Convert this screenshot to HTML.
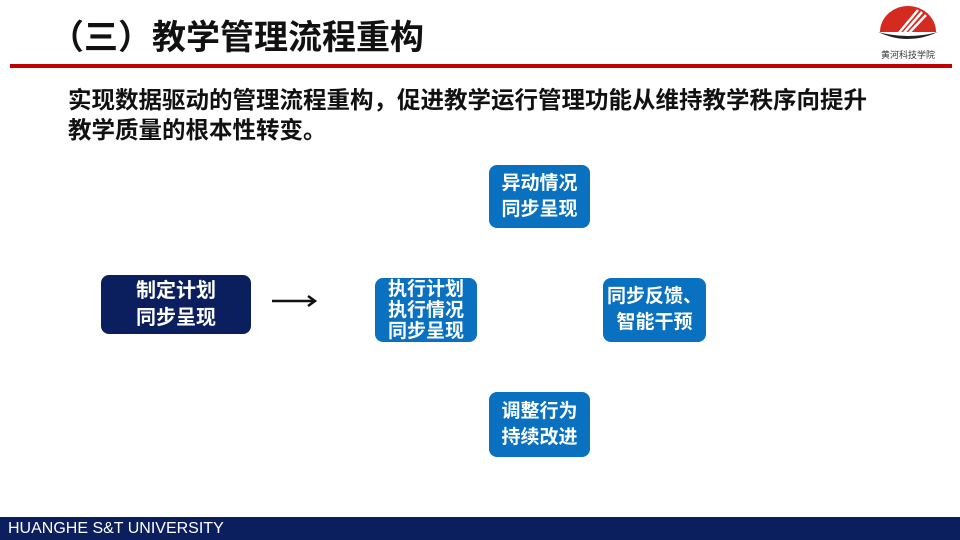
<!DOCTYPE html>
<html><head><meta charset="utf-8"><style>
*{margin:0;padding:0;box-sizing:border-box}
body{width:960px;height:540px;position:relative;background:#fff;overflow:hidden;font-family:"Liberation Sans","Noto Sans CJK SC",sans-serif}
.t{position:absolute;font-weight:bold;color:#111;white-space:nowrap}
.b{position:absolute;border-radius:8px;color:#fff;font-weight:bold;font-size:19px;line-height:22px;display:flex;align-items:center;justify-content:center;text-align:center;background:#0a70c0}
</style></head><body>
<div class="t" style="left:50px;top:14px;font-size:34px;line-height:48px">（三）教学管理流程重构</div>
<div style="position:absolute;left:10px;top:64px;width:942px;height:4px;background:#c00000"></div>
<svg style="position:absolute;left:870px;top:2px" width="76" height="60" viewBox="0 0 76 60">
<path d="M10 30 A28 26 0 1 1 66 30 Z" fill="#d42a20"/>
<path d="M28 32 L48 8 M33 32 L52 10 M38 32 L56 13" stroke="#fff" stroke-width="2.5"/>
<path d="M8 30 Q38 44 68 30 Q38 38 8 30 Z" fill="#222"/>
<text x="38" y="56" font-size="9" text-anchor="middle" fill="#333" font-family="Noto Sans CJK SC,sans-serif">黄河科技学院</text>
</svg>
<div class="t" style="left:68px;top:85px;font-size:23.5px;line-height:30px">实现数据驱动的管理流程重构，促进教学运行管理功能从维持教学秩序向提升<br>教学质量的根本性转变。</div>
<div class="b" style="left:101px;top:275px;width:150px;height:59px;background:#0b1f5e;font-size:20px;line-height:27px">制定计划<br>同步呈现</div>
<svg style="position:absolute;left:270px;top:293px" width="48" height="16"><line x1="2" y1="8" x2="44" y2="8" stroke="#111" stroke-width="2.5"/><path d="M38 3 L45 8 L38 13" fill="none" stroke="#111" stroke-width="2.5"/></svg>
<div class="b" style="left:375px;top:278px;width:102px;height:64px;line-height:21px">执行计划<br>执行情况<br>同步呈现</div>
<div class="b" style="left:489px;top:165px;width:101px;height:63px;line-height:26px">异动情况<br>同步呈现</div>
<div class="b" style="left:603px;top:278px;width:103px;height:64px;line-height:26px">同步反馈、<br>智能干预</div>
<div class="b" style="left:489px;top:392px;width:101px;height:65px;line-height:26px">调整行为<br>持续改进</div>
<div style="position:absolute;left:0;top:517px;width:960px;height:23px;background:#0b1f5e;color:#fff;font-size:16px;line-height:23px;padding-left:8px">HUANGHE S&amp;T UNIVERSITY</div>
</body></html>
